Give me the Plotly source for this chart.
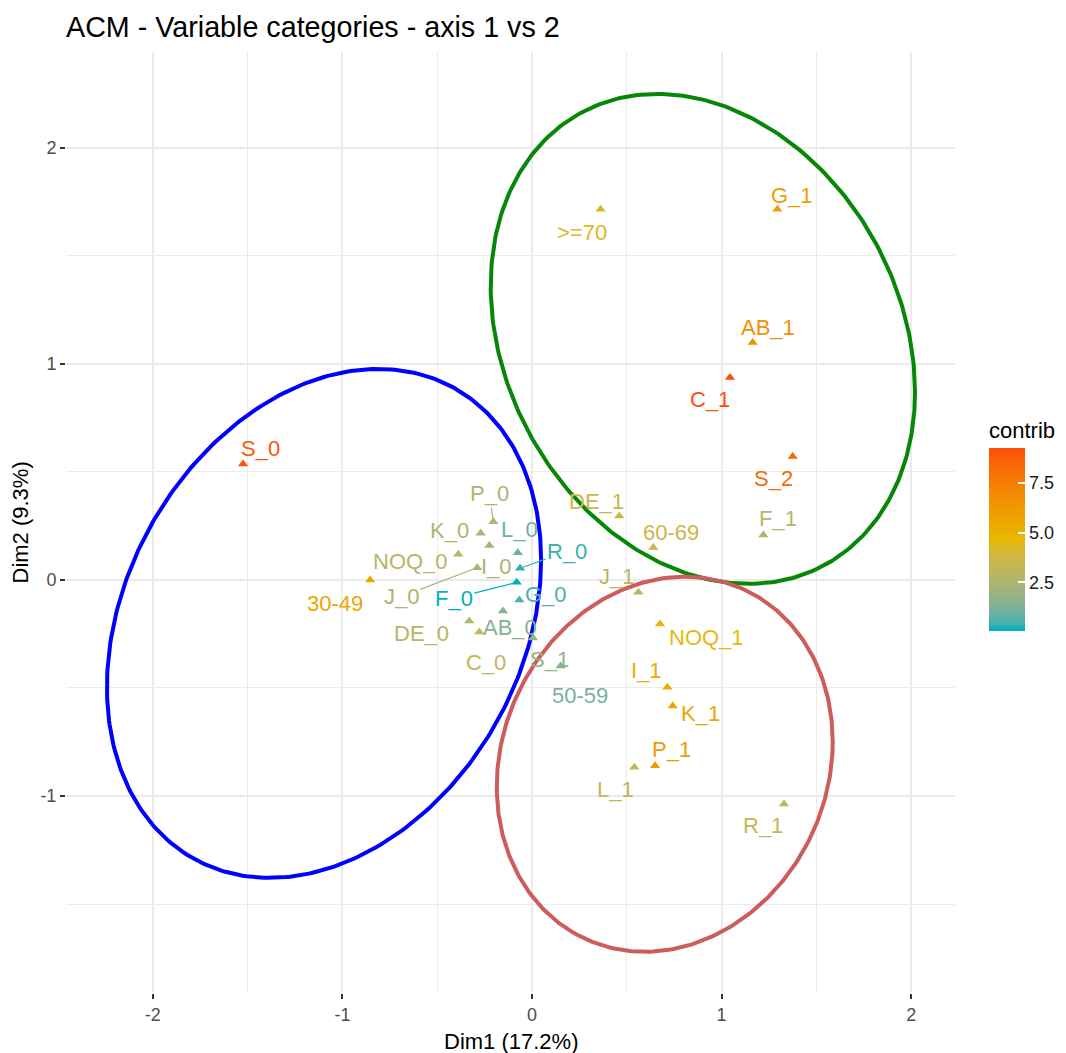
import numpy as np
import plotly.graph_objects as go

# ---------------- data ----------------
categories = ["S_0", "30-49", ">=70", "G_1", "AB_1", "C_1", "S_2", "F_1", "DE_1", "60-69",
              "J_1", "NOQ_1", "I_1", "K_1", "P_1", "L_1", "R_1", "50-59", "S_1",
              "P_0", "K_0", "I_0", "L_0", "NOQ_0", "J_0", "R_0", "F_0", "G_0",
              "AB_0", "DE_0", "C_0"]
dim1 = [-1.524, -0.854, 0.362, 1.294, 1.164, 1.044, 1.375, 1.220, 0.460, 0.640,
        0.561, 0.675, 0.714, 0.742, 0.649, 0.540, 1.329, 0.151, 0.005,
        -0.204, -0.271, -0.225, -0.075, -0.389, -0.289, -0.063, -0.081, -0.067,
        -0.153, -0.331, -0.278]
dim2 = [0.537, 0.000, 1.716, 1.716, 1.099, 0.937, 0.571, 0.208, 0.296, 0.150,
        -0.057, -0.204, -0.497, -0.583, -0.860, -0.867, -1.037, -0.398, -0.269,
        0.270, 0.216, 0.159, 0.126, 0.119, 0.057, 0.054, -0.011, -0.093,
        -0.144, -0.190, -0.241]
contrib = [9.0, 5.6, 4.3, 6.0, 6.6, 9.27, 8.4, 2.8, 3.6, 3.5,
           3.0, 4.6, 5.3, 5.7, 6.2, 3.3, 3.3, 1.2, 1.8,
           2.5, 2.5, 2.3, 1.0, 2.9, 2.5, 0.3, 0.05, 0.5,
           1.5, 2.8, 3.2]

# concentration ellipses (centre, half-extents, correlation)
ell_cx = [-1.097, 0.901, 0.700]
ell_cy = [-0.201, 1.116, -0.853]
ell_sx = [1.145, 1.119, 0.886]
ell_sy = [1.178, 1.134, 0.868]
ell_rho = [0.25, -0.215, 0.12]
ell_colors = ["#0000FF", "#078707", "#CD5C5C"]

x_ticks = [-2, -1, 0, 1, 2]
x_ticktext = ["-2", "-1", "0", "1", "2"]
y_ticks = [-1, 0, 1, 2]
y_ticktext = ["-1", "0", "1", "2"]
cbar_ticks = [2.5, 5.0, 7.5]
cbar_ticktext = ["2.5", "5.0", "7.5"]

# label placement (pixel offsets of label centre from point; +dy = down), connector flag
LABEL_OFFSETS = {
    "S_0": (17, -15, False), "30-49": (-35, 24, False), ">=70": (-19, 23, False),
    "G_1": (15, -14, False), "AB_1": (15, -15, False), "C_1": (-20, 22, False),
    "S_2": (-19, 22, False), "F_1": (15, -17, False), "DE_1": (-23, -15, False),
    "60-69": (18, -15, False), "J_1": (-22, -16, False), "NOQ_1": (47, 13, False),
    "I_1": (-21, -17, False), "K_1": (28, 8, False), "P_1": (16, -16, False),
    "L_1": (-19, 22, False), "R_1": (-21, 22, False), "50-59": (19, 30, False),
    "S_1": (17, 21, False), "P_0": (-4, -28, True), "K_0": (-31, -3, False),
    "I_0": (7, 21, False), "L_0": (2, -23, False), "NOQ_0": (-48, 7, False),
    "J_0": (-76, 29, True), "R_0": (47, -17, True), "F_0": (-63, 16, True),
    "G_0": (27, -6, False), "AB_0": (7, 16, False), "DE_0": (-48, 12, False),
    "C_0": (7, 30, False),
}

FONT = "Liberation Sans, Arial, sans-serif"
GRAD = ["#00AFBB", "#E7B800", "#FC4E07"]


# --- Lab-space gradient (as ggplot's gradientn) ---
def _hex_to_lab(h):
    rgb = np.array([int(h[i:i + 2], 16) for i in (1, 3, 5)]) / 255.0
    lin = np.where(rgb <= 0.04045, rgb / 12.92, ((rgb + 0.055) / 1.055) ** 2.4)
    M = np.array([[0.4124, 0.3576, 0.1805], [0.2126, 0.7152, 0.0722], [0.0193, 0.1192, 0.9505]])
    xyz = M @ lin / np.array([0.95047, 1.0, 1.08883])
    f = np.where(xyz > 0.008856, np.cbrt(xyz), 7.787 * xyz + 16 / 116)
    return np.array([116 * f[1] - 16, 500 * (f[0] - f[1]), 200 * (f[1] - f[2])])


def _lab_to_rgbstr(lab):
    L, a, b = lab
    fy = (L + 16) / 116
    fx, fz = fy + a / 500, fy - b / 200
    f = np.array([fx, fy, fz])
    xyz = np.where(f ** 3 > 0.008856, f ** 3, (f - 16 / 116) / 7.787) * np.array([0.95047, 1.0, 1.08883])
    Minv = np.array([[3.2406, -1.5372, -0.4986], [-0.9689, 1.8758, 0.0415], [0.0557, -0.2040, 1.0570]])
    lin = np.clip(Minv @ xyz, 0, 1)
    rgb = np.where(lin <= 0.0031308, 12.92 * lin, 1.055 * lin ** (1 / 2.4) - 0.055)
    r, g, bb = (np.clip(rgb, 0, 1) * 255).round().astype(int)
    return f"rgb({r},{g},{bb})"


_labs = [_hex_to_lab(c) for c in GRAD]


def grad_color(v):
    v = min(max(v, 0.0), 1.0)
    seg = min(int(v * 2), 1)
    u = v * 2 - seg
    return _lab_to_rgbstr(_labs[seg] * (1 - u) + _labs[seg + 1] * u)


colorscale = [[s, grad_color(s)] for s in np.linspace(0, 1, 21)]
cmin, cmax = min(contrib), max(contrib)

fig = go.Figure()

# ellipses
t = np.linspace(0, 2 * np.pi, 361)
for cx, cy, sx, sy, rho, col in zip(ell_cx, ell_cy, ell_sx, ell_sy, ell_rho, ell_colors):
    ex = cx + sx * np.cos(t)
    ey = cy + sy * (rho * np.cos(t) + np.sqrt(1 - rho ** 2) * np.sin(t))
    fig.add_trace(go.Scatter(x=ex, y=ey, mode="lines", line=dict(color=col, width=4),
                             hoverinfo="skip", showlegend=False))

# figure geometry (page has an 8px body margin)
W, H = 1050, 1045
ML, MR, MT, MB = 58, 103, 44, 60
PH = H - MT - MB
PW = W - ML - MR

# points
fig.add_trace(go.Scatter(
    x=dim1, y=dim2, mode="markers", text=categories, showlegend=False,
    marker=dict(symbol="triangle-up", size=9, color=contrib, colorscale=colorscale,
                cmin=cmin, cmax=cmax, line=dict(width=0),
                colorbar=dict(
                    title=dict(text="contrib", side="top",
                               font=dict(family=FONT, size=22, color="#000000")),
                    thickness=36, len=213, lenmode="pixels",
                    x=(981 - ML) / PW, xanchor="left", xpad=0,
                    y=(H - MB - 623) / PH, yanchor="bottom", ypad=0,
                    tickvals=cbar_ticks, ticktext=cbar_ticktext,
                    ticks="inside", ticklen=7, tickwidth=1.5, tickcolor="white",
                    tickfont=dict(family=FONT, size=18, color="#1a1a1a"),
                    outlinewidth=0)),
))

# labels
lab_colors = [grad_color((c - cmin) / (cmax - cmin)) for c in contrib]
for name, xv, yv, col in zip(categories, dim1, dim2, lab_colors):
    dx, dy, link = LABEL_OFFSETS[name]
    if link:
        fig.add_annotation(x=xv, y=yv, text=name, showarrow=True, ax=dx, ay=dy,
                           arrowhead=0, arrowwidth=1.2, arrowcolor=col, standoff=3,
                           font=dict(family=FONT, size=22, color=col))
    else:
        fig.add_annotation(x=xv, y=yv, text=name, showarrow=False, xshift=dx, yshift=-dy,
                           font=dict(family=FONT, size=22, color=col))

# axis titles
fig.add_annotation(xref="paper", yref="paper", x=0.5, y=0, yshift=-48, text="Dim1 (17.2%)",
                   showarrow=False, xanchor="center", yanchor="middle",
                   font=dict(family=FONT, size=22, color="#000000"))
fig.add_annotation(xref="paper", yref="paper", x=0, y=0.5, xshift=-46, text="Dim2 (9.3%)",
                   showarrow=False, xanchor="center", yanchor="middle", textangle=-90,
                   font=dict(family=FONT, size=22, color="#000000"))

# reference lines
fig.add_hline(y=0, line=dict(color="black", width=1.5, dash="6px,5px"), layer="below")
fig.add_vline(x=0, line=dict(color="black", width=1.5, dash="6px,5px"), layer="below")

axis_common = dict(
    showline=False, zeroline=False, showgrid=True, gridcolor="#EBEBEB", gridwidth=1.6,
    ticks="outside", ticklen=5, tickwidth=1.5, tickcolor="#333333",
    tickfont=dict(family=FONT, size=18, color="#4D4D4D"), automargin=False,
    minor=dict(dtick=0.5, showgrid=True, gridcolor="#EBEBEB", gridwidth=1.2),
)
fig.update_xaxes(range=[-2.458, 2.231], tickvals=x_ticks, ticktext=x_ticktext, **axis_common)
fig.update_yaxes(range=[-1.912, 2.444], tickvals=y_ticks, ticktext=y_ticktext, **axis_common)

fig.update_layout(
    width=W, height=H,
    margin=dict(l=ML, r=MR, t=MT, b=MB, autoexpand=False),
    paper_bgcolor="white", plot_bgcolor="white",
    title=dict(text="ACM - Variable categories - axis 1 vs 2", x=ML / W, xanchor="left",
               y=1 - 19 / H, yanchor="middle",
               font=dict(family=FONT, size=28.7, color="#000000")),
    showlegend=False,
)

fig.write_html("out.html")
